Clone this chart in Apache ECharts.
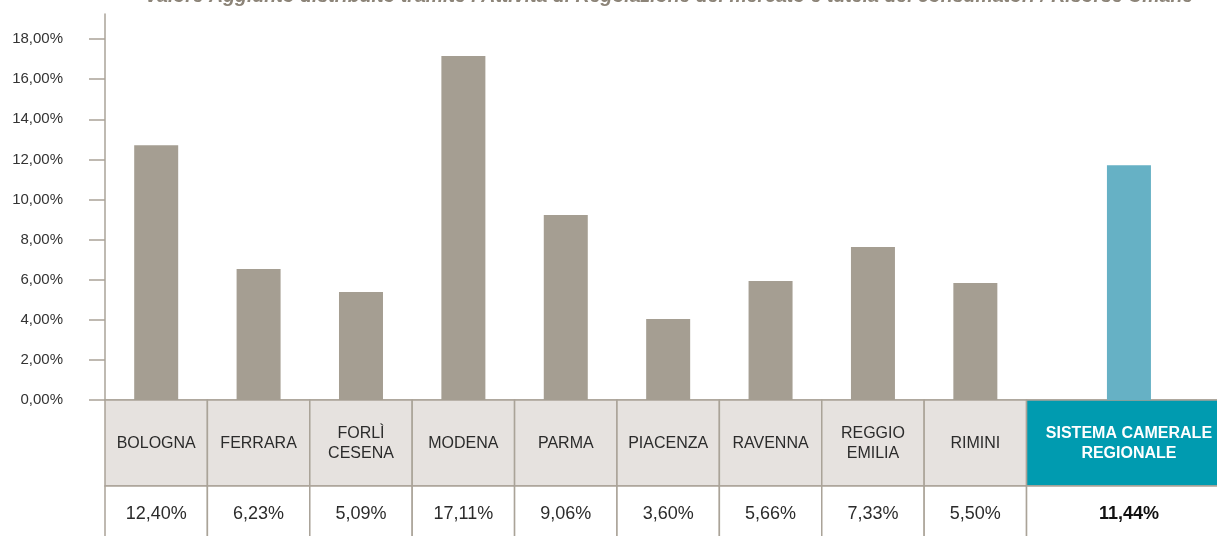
<!DOCTYPE html>
<html>
<head>
<meta charset="utf-8">
<style>
  html, body { margin: 0; padding: 0; background: #ffffff; }
  #chart { width: 1217px; height: 536px; }
</style>
<script src="https://cdn.jsdelivr.net/npm/echarts@6/dist/echarts.min.js"></script>
</head>
<body>
<div id="chart"></div>
<script>
// ---- data ----
const titleText = "Valore Aggiunto distribuito tramite l'Attività di Regolazione del mercato e tutela dei consumatori / Risorse Umane";
const categories = ['BOLOGNA', 'FERRARA', 'FORLÌ\nCESENA', 'MODENA', 'PARMA', 'PIACENZA', 'RAVENNA', 'REGGIO\nEMILIA', 'RIMINI', 'SISTEMA CAMERALE\nREGIONALE'];
// bar heights as drawn in the picture (%)
const barValues = [12.71, 6.53, 5.38, 17.15, 9.22, 4.04, 5.93, 7.63, 5.83, 11.71];
// values printed in the table (%)
const tableValues = [12.40, 6.23, 5.09, 17.11, 9.06, 3.60, 5.66, 7.33, 5.50, 11.44];
const yTicks = [0, 2, 4, 6, 8, 10, 12, 14, 16, 18];

// ---- layout helpers ----
const FONT = "'Liberation Sans', Arial, Helvetica, sans-serif";
const GREY = '#a59e92';
const LINE = '#aaa398';
const TEAL_BAR = '#66b1c5';
const TEAL_CELL = '#009bb0';
const lastIdx = categories.length - 1;
const spans = categories.map((c, i) => (i === lastIdx ? 2 : 1));
const starts = [];
spans.reduce((acc, s) => { starts.push(acc); return acc + s; }, 0);
const centers = starts.map((s, i) => s + spans[i] / 2);
const fmt = v => v.toFixed(2).replace('.', ',') + '%';

const chart = echarts.init(document.getElementById('chart'), null, { renderer: 'canvas' });

const tableData = categories.map((c, i) => [starts[i], starts[i] + spans[i], i]);

const option = {
  animation: false,
  backgroundColor: '#ffffff',
  textStyle: { fontFamily: FONT },
  graphic: [{
    type: 'text',
    x: 669,
    y: -13,
    silent: true,
    style: {
      text: titleText,
      align: 'center',
      verticalAlign: 'top',
      fontFamily: FONT,
      fontSize: 19.5,
      fontWeight: 'bold',
      fontStyle: 'italic',
      fill: '#8c8478'
    }
  }],
  grid: { left: 105, right: 0, top: 14, bottom: 136, containLabel: false },
  xAxis: {
    type: 'value',
    min: 0,
    max: 10.86,
    axisLine: { show: true, onZero: false, lineStyle: { color: LINE, width: 1.5 } },
    axisTick: { show: false },
    axisLabel: { show: false },
    splitLine: { show: false }
  },
  yAxis: {
    type: 'value',
    min: 0,
    max: 19.25,
    axisLine: { show: true, lineStyle: { color: LINE, width: 1.5 } },
    axisTick: { show: true, length: 16, lineStyle: { color: LINE, width: 1.5 }, customValues: yTicks },
    axisLabel: {
      customValues: yTicks,
      margin: 42,
      color: '#333333',
      fontSize: 15,
      fontFamily: FONT,
      formatter: v => fmt(v)
    },
    splitLine: { show: false }
  },
  series: [
    {
      type: 'bar',
      barWidth: 44,
      data: barValues.map((v, i) => ({
        value: [centers[i], v],
        itemStyle: { color: i === lastIdx ? TEAL_BAR : GREY }
      }))
    },
    {
      type: 'custom',
      clip: false,
      silent: true,
      z: 1,
      data: tableData,
      renderItem: function (params, api) {
        const i = api.value(2);
        const p0 = api.coord([api.value(0), 0]);
        const p1 = api.coord([api.value(1), 0]);
        const x0 = p0[0], x1 = p1[0], y0 = p0[1];
        const w = x1 - x0;
        const headH = 86;
        const isSum = i === lastIdx;
        return {
          type: 'group',
          children: [
            {
              type: 'rect',
              shape: { x: x0, y: y0, width: w, height: headH },
              style: { fill: isSum ? TEAL_CELL : '#e6e2df', stroke: LINE, lineWidth: 1.5 }
            },
            {
              type: 'rect',
              shape: { x: x0, y: y0 + headH, width: w, height: 80 },
              style: { fill: '#ffffff', stroke: LINE, lineWidth: 1.5 }
            },
            {
              type: 'text',
              style: {
                x: x0 + w / 2,
                y: y0 + headH / 2 + 1,
                text: categories[i],
                align: 'center',
                verticalAlign: 'middle',
                lineHeight: 20,
                fontFamily: FONT,
                fontSize: 16,
                fontWeight: isSum ? 'bold' : 'normal',
                fill: isSum ? '#ffffff' : '#2b2b2b'
              }
            },
            {
              type: 'text',
              style: {
                x: x0 + w / 2,
                y: y0 + 114,
                text: fmt(tableValues[i]),
                align: 'center',
                verticalAlign: 'middle',
                fontFamily: FONT,
                fontSize: 18,
                fontWeight: isSum ? 'bold' : 'normal',
                fill: isSum ? '#111111' : '#2b2b2b'
              }
            }
          ]
        };
      }
    }
  ]
};

chart.setOption(option);
</script>
</body>
</html>
